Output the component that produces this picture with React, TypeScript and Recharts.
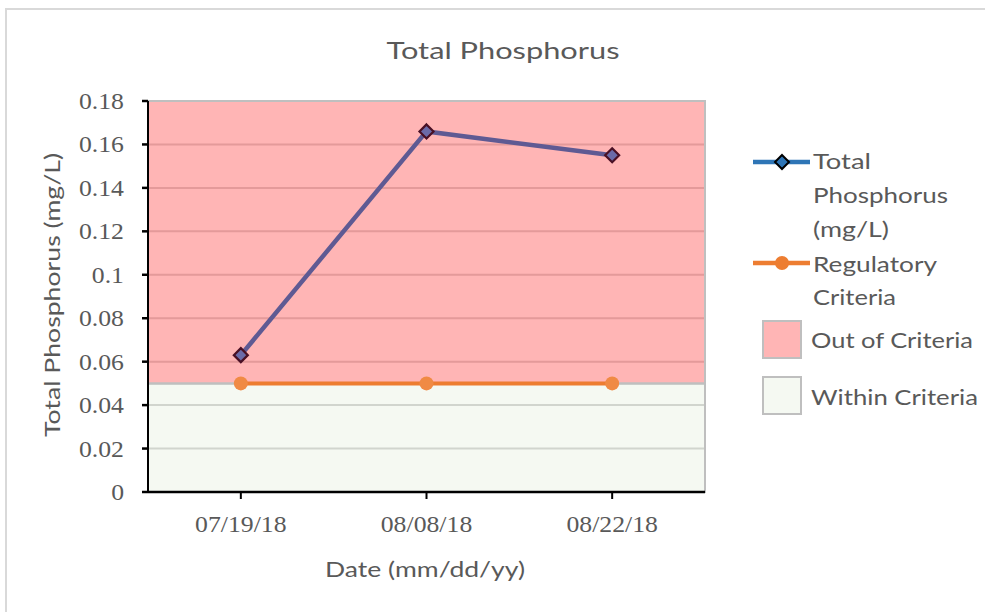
import React from 'react';
import { ComposedChart, Line, XAxis, YAxis, CartesianGrid, ReferenceArea } from 'recharts';

const dates = ['07/19/18', '08/08/18', '08/22/18'];
const totalPhosphorus = [0.063, 0.166, 0.155];
const regulatoryCriteria = [0.05, 0.05, 0.05];
const yTicks = [0, 0.02, 0.04, 0.06, 0.08, 0.1, 0.12, 0.14, 0.16, 0.18];
const criteriaLimit = 0.05;
const yMax = 0.18;
const seriesNames = ['Total Phosphorus (mg/L)', 'Regulatory Criteria', 'Out of Criteria', 'Within Criteria'];

const data = dates.map((d, i) => ({ date: d, tp: totalPhosphorus[i], rc: regulatoryCriteria[i] }));

const W = 985;
const H = 612;
const TXT = '#595959';
const SANS = "Lato, 'Open Sans', sans-serif";
const SERIF = "'Liberation Serif', 'Times New Roman', serif";

const fmt = (v: number) => String(Number(v.toFixed(2)));

const YTick = (p: any) => {
  const { x, y, payload } = p;
  return (
    <text
      transform={`translate(${x},${y}) scale(1.12,1)`}
      textAnchor="end"
      dy="0.35em"
      fontFamily={SERIF}
      fontSize={23}
      fill={TXT}
    >
      {fmt(payload.value)}
    </text>
  );
};

const XTick = (p: any) => {
  const { x, y, payload } = p;
  return (
    <text
      transform={`translate(${x},${y}) scale(1.12,1)`}
      textAnchor="middle"
      dy="0.75em"
      fontFamily={SERIF}
      fontSize={23}
      fill={TXT}
    >
      {payload.value}
    </text>
  );
};

const Diamond = (p: any) => {
  const { cx, cy, index } = p;
  if (cx == null || cy == null) return <g key={`d${index}`} />;
  const s = 7;
  return (
    <polygon
      key={`d${index}`}
      points={`${cx},${cy - s} ${cx + s},${cy} ${cx},${cy + s} ${cx - s},${cy}`}
      fill="#6b6aa8"
      stroke="#4a1025"
      strokeWidth={2.2}
    />
  );
};

const LText = ({ x, y, len, children, size = 22 }: any) => (
  <text x={x} y={y} fontFamily={SANS} fontSize={size} fill={TXT} textLength={len} lengthAdjust="spacingAndGlyphs">
    {children}
  </text>
);

export default function App() {
  return (
    <div style={{ position: 'absolute', left: 0, top: 0, width: W, height: H, background: '#fff' }}>
      <div style={{ position: 'absolute', left: 0, top: 0 }}>
        <ComposedChart width={W} height={H} data={data} margin={{ top: 101, right: 280, bottom: 0, left: 0 }}>
          <CartesianGrid vertical={false} stroke="#d9d9d9" strokeWidth={2} />
          <XAxis
            dataKey="date"
            scale="band"
            height={120}
            tick={<XTick />}
            tickSize={7}
            tickMargin={16}
            axisLine={{ stroke: '#000', strokeWidth: 2.5 }}
            tickLine={{ stroke: '#000', strokeWidth: 2 }}
          />
          <YAxis
            width={148}
            domain={[0, yMax]}
            ticks={yTicks}
            interval={0}
            tick={<YTick />}
            tickSize={6}
            tickMargin={18}
            axisLine={{ stroke: '#000', strokeWidth: 2 }}
            tickLine={{ stroke: '#000', strokeWidth: 2.5 }}
          />
          <ReferenceArea
            y1={criteriaLimit}
            y2={yMax}
            fill="#ff0000"
            fillOpacity={0.29}
            stroke="#bfbfbf"
            strokeWidth={2}
            ifOverflow="visible"
          />
          <ReferenceArea
            y1={0}
            y2={criteriaLimit}
            fill="#70ad47"
            fillOpacity={0.07}
            stroke="#bfbfbf"
            strokeWidth={2}
            ifOverflow="visible"
          />
          <Line
            dataKey="rc"
            stroke="#ed7d31"
            strokeWidth={4}
            dot={{ r: 7, fill: '#f08a44', stroke: 'none' }}
            isAnimationActive={false}
          />
          <Line
            dataKey="tp"
            stroke="#5f5a93"
            strokeWidth={4.5}
            dot={<Diamond />}
            isAnimationActive={false}
          />
        </ComposedChart>
      </div>
      <svg width={W} height={H} style={{ position: 'absolute', left: 0, top: 0, pointerEvents: 'none' }}>
        <rect x={6} y={9} width={W} height={H} fill="none" stroke="#d9d9d9" strokeWidth={2} />
        <text x={503} y={59} textAnchor="middle" fontFamily={SANS} fontSize={24} fill={TXT} textLength={233} lengthAdjust="spacingAndGlyphs">
          Total Phosphorus
        </text>
        <text
          transform="translate(60,295) rotate(-90)"
          textAnchor="middle"
          fontFamily={SANS}
          fontSize={22}
          fill={TXT}
          textLength={284}
          lengthAdjust="spacingAndGlyphs"
        >
          {seriesNames[0]}
        </text>
        <text x={425} y={577} textAnchor="middle" fontFamily={SANS} fontSize={22} fill={TXT} textLength={200} lengthAdjust="spacingAndGlyphs">
          Date (mm/dd/yy)
        </text>
        {/* legend */}
        <line x1={753} y1={162} x2={810} y2={162} stroke="#2e75b6" strokeWidth={4.5} />
        <polygon points="782,155 789,162 782,169 775,162" fill="#2e75b6" stroke="#000" strokeWidth={2} />
        <LText x={813} y={169} len={58}>Total</LText>
        <LText x={813} y={203} len={135}>Phosphorus</LText>
        <LText x={813} y={237} len={76}>(mg/L)</LText>
        <line x1={753} y1={263} x2={810} y2={263} stroke="#ed7d31" strokeWidth={4.5} />
        <circle cx={782} cy={263} r={7} fill="#ed7d31" />
        <LText x={813} y={272} len={124}>Regulatory</LText>
        <LText x={813} y={305} len={83}>Criteria</LText>
        <rect x={763} y={321} width={38} height={37} fill="#ff0000" fillOpacity={0.29} stroke="#bfbfbf" strokeWidth={2} />
        <LText x={811} y={348} len={162}>{seriesNames[2]}</LText>
        <rect x={763} y={377} width={38} height={37} fill="#70ad47" fillOpacity={0.07} stroke="#bfbfbf" strokeWidth={2} />
        <LText x={811} y={405} len={167}>{seriesNames[3]}</LText>
      </svg>
    </div>
  );
}
